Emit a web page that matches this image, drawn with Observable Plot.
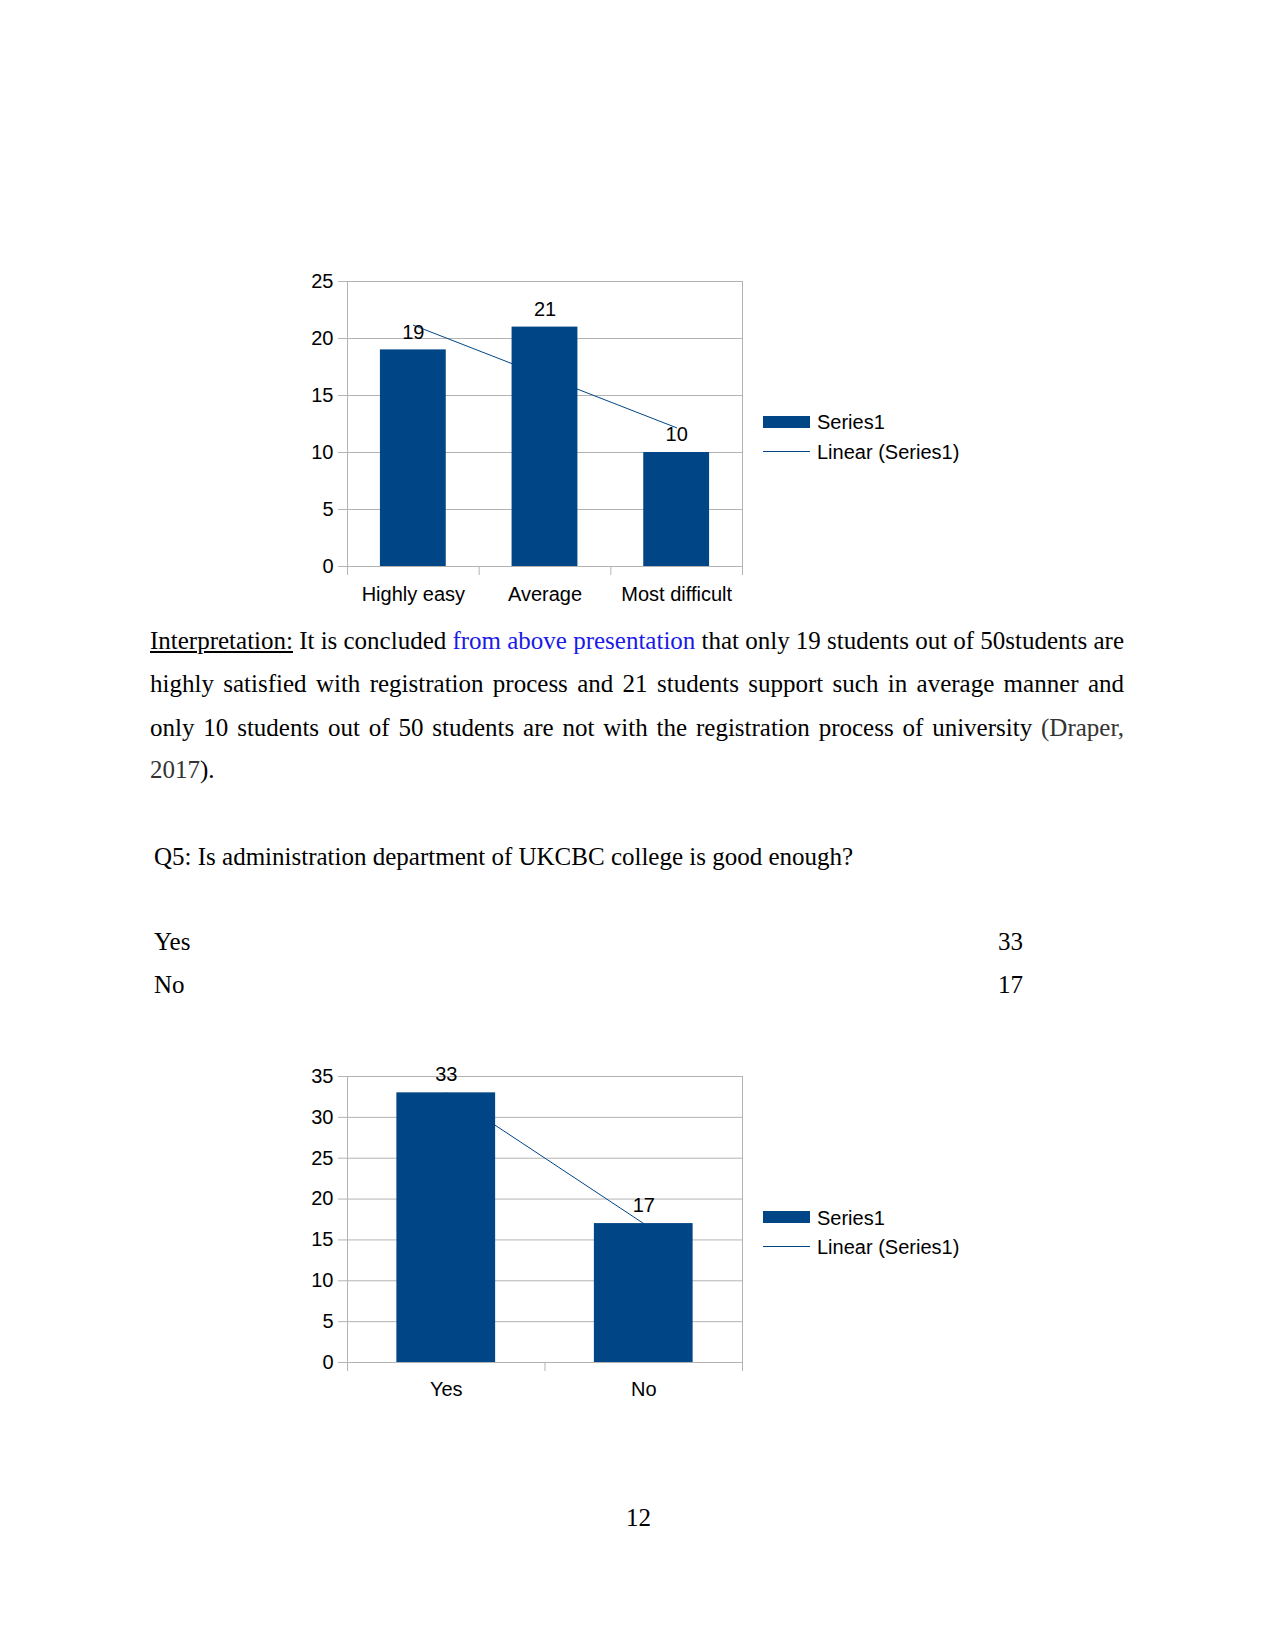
<!DOCTYPE html>
<html>
<head>
<meta charset="utf-8">
<script src="https://cdn.jsdelivr.net/npm/d3@7"></script>
<script src="https://cdn.jsdelivr.net/npm/@observablehq/plot@0.6"></script>
<style>
  html, body { margin: 0; padding: 0; background: #fff; }
  #page { position: relative; width: 1275px; height: 1651px; background: #fff; overflow: hidden; }
  .abs { position: absolute; }
  .serif { font-family: "Liberation Serif", "Times New Roman", serif; font-size: 25px; line-height: 25px; color: #000; white-space: nowrap; }
  .sans { font-family: "Liberation Sans", Arial, sans-serif; font-size: 20px; line-height: 20px; color: #000; white-space: nowrap; }
  .chart svg { display: block; }
</style>
</head>
<body>
<div id="page">
  <div id="chart1" class="abs chart" style="left:290px; top:260px;"></div>
  <div class="abs" style="left:763px; top:416px; width:47px; height:12px; background:#004586;"></div>
  <div class="abs sans" style="left:817px; top:412px;">Series1</div>
  <div class="abs" style="left:763px; top:451px; width:47px; height:1px; background:#004586;"></div>
  <div class="abs sans" style="left:817px; top:442px;">Linear (Series1)</div>

  <div class="abs serif fit" data-w="974" style="left:150px; top:628px;"><span style="text-decoration:underline;">Interpretation:</span> It is concluded <span style="color:#1a1ae6;">from above presentation</span> that only 19 students out of 50students are</div>
  <div class="abs serif fit" data-w="974" style="left:150px; top:671px;">highly satisfied with registration process and 21 students support such in average manner and</div>
  <div class="abs serif fit" data-w="974" style="left:150px; top:715px;">only 10 students out of 50 students are not with the registration process of university <span style="color:#333;">(Draper,</span></div>
  <div class="abs serif" style="left:150px; top:757px;"><span style="color:#333;">2017</span>).</div>

  <div class="abs serif" style="left:154px; top:844px;">Q5: Is administration department of UKCBC college is good enough?</div>
  <div id="q5table"></div>

  <div id="chart2" class="abs chart" style="left:290px; top:1050px;"></div>
  <div class="abs" style="left:763px; top:1211px; width:47px; height:12px; background:#004586;"></div>
  <div class="abs sans" style="left:817px; top:1208px;">Series1</div>
  <div class="abs" style="left:763px; top:1246px; width:47px; height:1px; background:#004586;"></div>
  <div class="abs sans" style="left:817px; top:1237px;">Linear (Series1)</div>

  <div class="abs serif" style="left:626px; top:1505px;">12</div>
</div>
<script>
// ---- Data ----
const q4Categories = ["Highly easy", "Average", "Most difficult"];
const q4Values = [19, 21, 10];
const q4YTicks = [0, 5, 10, 15, 20, 25];

const q5Categories = ["Yes", "No"];
const q5Values = [33, 17];
const q5YTicks = [0, 5, 10, 15, 20, 25, 30, 35];

const BAR = "#004586";
const GRID = "#b3b3b3";

function makeChart(categories, values, yTicks, opts) {
  const n = categories.length;
  const data = categories.map((c, i) => ({cat: c, i, value: values[i]}));
  return Plot.plot({
    width: 480,
    height: opts.height,
    marginLeft: 57,
    marginRight: 28,
    marginTop: opts.marginTop,
    marginBottom: opts.marginBottom,
    style: {fontFamily: "'Liberation Sans', Arial, sans-serif", fontSize: "20px", background: "#fff", color: "#000", overflow: "visible"},
    x: {domain: [0, n]},
    y: {domain: [0, yTicks[yTicks.length - 1]]},
    marks: [
      Plot.gridY({ticks: yTicks, stroke: GRID, strokeOpacity: 1}),
      Plot.ruleX([0, n], {stroke: GRID, strokeOpacity: 1}),
      Plot.axisY({ticks: yTicks, tickSize: 9, tickPadding: 5, stroke: GRID, fill: "#000", label: null, fontSize: 20}),
      Plot.axisX({ticks: d3.range(n + 1), tickSize: 9, tickFormat: () => "", stroke: GRID, label: null}),
      Plot.axisX({ticks: categories.map((_, i) => i + 0.5), tickSize: 0, tickPadding: opts.xPad,
        tickFormat: v => categories[Math.floor(v)], fill: "#000", label: null, fontSize: 20}),
      Plot.linearRegressionY(data, {x: d => d.i + 0.5, y: "value", stroke: BAR, strokeWidth: 1, ci: 0}),
      Plot.rectY(data, {x1: d => d.i + 0.25, x2: d => d.i + 0.75, y1: 0, y2: "value", fill: BAR}),
      Plot.text(data, {x: d => d.i + 0.5, y: "value", text: d => String(d.value), dy: opts.labelDy, fill: "#000", fontSize: 20})
    ]
  });
}

document.getElementById("chart1").appendChild(
  makeChart(q4Categories, q4Values, q4YTicks, {height: 340, marginTop: 21, marginBottom: 34, labelDy: -17.5, xPad: 20})
);
document.getElementById("chart2").appendChild(
  makeChart(q5Categories, q5Values, q5YTicks, {height: 350, marginTop: 26, marginBottom: 38, labelDy: -18, xPad: 19})
);

// Q5 small table
const tbl = document.getElementById("q5table");
const rowTops = [929, 972];
q5Categories.forEach((c, i) => {
  const l = document.createElement("div");
  l.className = "abs serif";
  l.style.left = "154px";
  l.style.top = rowTops[i] + "px";
  l.textContent = c;
  tbl.appendChild(l);
  const r = document.createElement("div");
  r.className = "abs serif";
  r.style.right = (1275 - 1023) + "px";
  r.style.top = rowTops[i] + "px";
  r.textContent = String(q5Values[i]);
  tbl.appendChild(r);
});

// Justify single lines to a fixed width by adjusting word spacing
document.querySelectorAll(".fit").forEach(el => {
  const target = +el.dataset.w;
  const natural = el.getBoundingClientRect().width;
  const spaces = (el.textContent.match(/ /g) || []).length;
  if (spaces > 0) el.style.wordSpacing = ((target - natural) / spaces) + "px";
});
</script>
</body>
</html>
